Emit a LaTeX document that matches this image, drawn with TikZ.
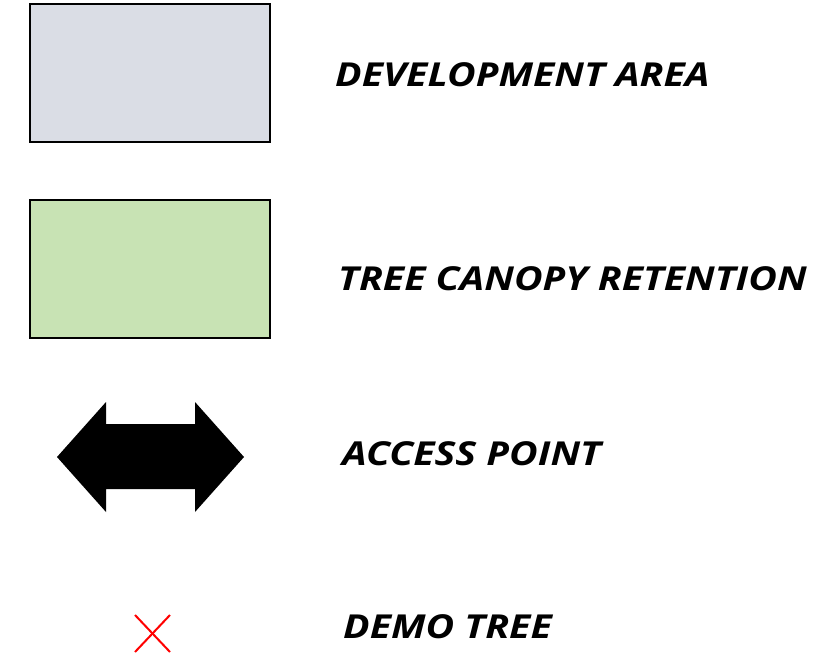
\documentclass[tikz,border=0pt]{standalone}
\usepackage{fontspec}
\usepackage{xcolor}
\usepackage{tikz}
\usetikzlibrary{positioning}
\newfontfamily\legendfont[FakeStretch=1.19]{Open Sans}
\definecolor{devgray}{HTML}{DADDE5}
\definecolor{canopygreen}{HTML}{C8E3B4}
\tikzset{
    legendtext/.style={anchor=base west, inner sep=0pt, font=\legendfont\fontsize{33}{36}\selectfont\bfseries\itshape}
}
\begin{document}
\begin{tikzpicture}[x=1pt, y=-1pt]
    \useasboundingbox (0,0) rectangle (819,655);

    % Development area
    \draw[line width=2pt, fill=devgray] (30,4) rectangle (270,142);
    \node[legendtext] (devlabel) at (335,87) {DEVELOPMENT AREA};

    % Tree canopy retention
    \draw[line width=2pt, fill=canopygreen] (30,200) rectangle (270,338);
    \node[legendtext] (canopylabel) at (338,290) {TREE CANOPY RETENTION};

    % Access point
    \fill[black] (57,457) -- (106,402) -- (106,424) -- (195,424) -- (195,402)
        -- (244,457) -- (195,512) -- (195,489) -- (106,489) -- (106,512) -- cycle;
    \node[legendtext] (accesslabel) at (342,465) {ACCESS POINT};

    % Demo tree
    \draw[red, line width=2pt] (135,615) -- (170,652);
    \draw[red, line width=2pt] (135,652) -- (170,615);
    \node[legendtext] (demolabel) at (343,638) {DEMO TREE};
\end{tikzpicture}
\end{document}
